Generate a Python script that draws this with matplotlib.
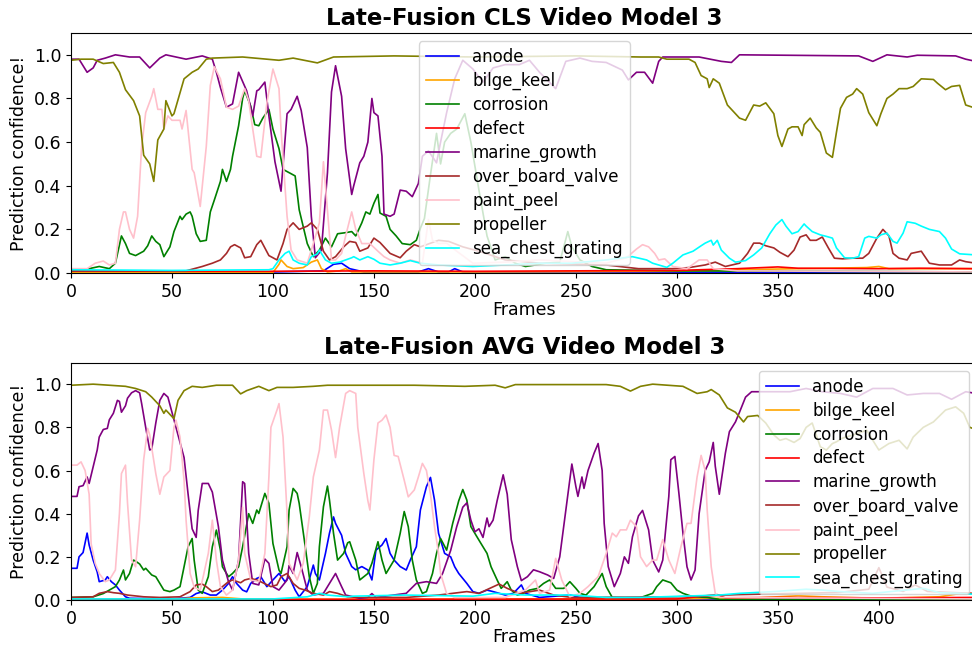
import matplotlib
matplotlib.use("Agg")
import matplotlib.pyplot as plt

# class names and plot colours (same order in both panels)
classes = ["anode", "bilge_keel", "corrosion", "defect", "marine_growth",
           "over_board_valve", "paint_peel", "propeller", "sea_chest_grating"]
colors = ["blue", "orange", "green", "red", "purple",
          "brown", "pink", "olive", "cyan"]

# ---- CLS model: (frame, confidence) ----
cls_anode = [(0, .005), (100, .005), (125, .01), (130, .04), (134, .045), (138, .02), (145, .005),
             (172, .005), (177, .02), (182, .005), (187, .005), (190, .02), (194, .005), (250, .005),
             (300, .003), (448, .003)]
cls_bilge_keel = [(0, .002), (100, .002), (103, .04), (104, .06), (107, .03), (110, .02), (115, .025),
                  (119, .05), (122, .06), (124, .02), (127, .005), (133, .01), (136, .02), (139, .005),
                  (200, .005), (300, .008), (330, .015), (360, .02), (394, .025), (400, .03), (405, .02),
                  (430, .02), (448, .02)]
cls_corrosion = [(0, .01), (9, .02), (14, .03), (19, .02), (22, .045), (25, .17), (27, .135), (29, .09),
                 (32, .08), (36, .10), (38, .125), (40, .17), (42, .145), (44, .13), (46, .075), (49, .12),
                 (51, .19), (54, .26), (55, .245), (57, .27), (59, .28), (60, .26), (62, .18), (64, .145),
                 (67, .15), (69, .28), (71, .335), (74, .42), (75, .475), (77, .42), (79, .475), (80, .535),
                 (83, .675), (85, .80), (86, .835), (89, .765), (91, .68), (93, .675), (95, .71), (98, .75),
                 (100, .66), (103, .57), (105, .475), (108, .46), (111, .445), (113, .29), (117, .135),
                 (120, .075), (123, .105), (126, .16), (129, .12), (132, .18), (136, .185), (139, .19),
                 (141, .17), (144, .23), (146, .28), (148, .27), (150, .32), (152, .36), (153, .275),
                 (156, .26), (158, .2), (161, .17), (164, .135), (168, .13), (171, .15), (173, .205),
                 (175, .25), (178, .45), (181, .64), (183, .5), (185, .6), (188, .64), (191, .66), (195, .73),
                 (198, .6), (202, .38), (206, .17), (210, .06), (215, .075), (220, .045), (225, .03),
                 (230, .037), (235, .045), (242, .05), (246, .19), (248, .12), (252, .06), (258, .03),
                 (265, .015), (300, .01), (448, .005)]
cls_defect = [(0, .01), (50, .008), (100, .008), (150, .01), (200, .008), (250, .01), (300, .012),
              (330, .02), (350, .028), (360, .022), (400, .02), (420, .022), (448, .02)]
cls_marine_growth = [(0, .98), (4, .98), (8, .92), (11, .94), (13, .975), (17, .985), (22, 1.0), (29, .99),
                     (34, .99), (39, .94), (44, .985), (47, 1.0), (57, .98), (65, .995), (70, .98), (72, .92),
                     (74, .85), (77, .76), (80, .775), (83, .92), (87, .835), (90, .72), (92, .835), (93, .84),
                     (96, .875), (98, .72), (101, .51), (104, .375), (107, .73), (109, .75), (112, .81),
                     (114, .745), (117, .575), (119, .26), (121, .07), (124, .105), (127, .46), (129, .83),
                     (131, .95), (134, .81), (136, .57), (139, .36), (140, .40), (143, .505), (145, .535),
                     (147, .6), (149, .80), (150, .735), (152, .72), (154, .535), (155, .27), (158, .26),
                     (160, .27), (163, .38), (166, .375), (169, .35), (172, .41), (174, .535), (177, .56),
                     (181, .505), (183, .6), (186, .735), (190, .89), (194, .975), (199, .935), (204, .875),
                     (209, .94), (215, .955), (222, .955), (227, .975), (232, .92), (240, .845), (245, .97),
                     (252, .985), (258, .97), (265, .965), (273, .93), (276, .885), (280, .92), (284, .92),
                     (288, .87), (291, .97), (293, .99), (311, .99), (322, .97), (327, .965), (331, 1.0),
                     (390, .995), (397, .97), (404, 1.0), (414, .99), (419, .998), (438, .995), (443, .98),
                     (448, .97)]
cls_over_board_valve = [(0, .01), (57, .01), (61, .02), (65, .03), (70, .045), (74, .06), (77, .09), (79, .12),
                        (81, .13), (84, .115), (86, .07), (89, .075), (92, .13), (94, .15), (96, .115), (98, .08),
                        (102, .06), (105, .135), (107, .2), (110, .23), (113, .2), (117, .215), (119, .23),
                        (122, .2), (125, .1), (128, .06), (131, .075), (135, .12), (138, .145), (141, .14),
                        (143, .1), (147, .115), (150, .16), (153, .14), (158, .09), (163, .07), (166, .1),
                        (170, .13), (173, .12), (182, .15), (187, .145), (194, .12), (202, .1), (215, .06),
                        (232, .045), (265, .037), (281, .02), (298, .02), (306, .025), (314, .037), (319, .05),
                        (324, .03), (331, .045), (335, .09), (338, .137), (341, .137), (344, .125), (348, .115),
                        (351, .095), (355, .075), (358, .105), (361, .165), (364, .175), (366, .15), (369, .15),
                        (372, .165), (375, .115), (378, .068), (382, .065), (387, .068), (392, .068), (395, .09),
                        (399, .16), (402, .2), (405, .17), (407, .09), (410, .068), (414, .06), (416, .09),
                        (421, .1), (425, .045), (430, .037), (436, .037), (440, .06), (443, .052), (448, .045)]
cls_paint_peel = [(0, .02), (8, .02), (12, .045), (16, .055), (19, .037), (22, .045), (24, .2), (26, .28),
                  (27, .28), (29, .2), (31, .16), (33, .26), (35, .58), (37, .735), (40, .81), (41, .845),
                  (43, .75), (45, .75), (46, .66), (48, .72), (50, .70), (54, .70), (55, .66), (57, .745),
                  (60, .475), (61, .46), (64, .305), (67, .58), (69, .86), (71, .945), (74, .89), (77, .76),
                  (80, .75), (83, .765), (86, .845), (88, .79), (90, .66), (92, .535), (94, .53), (97, .78),
                  (100, .935), (103, .845), (104, .66), (107, .26), (109, .105), (112, .06), (117, .045),
                  (120, .135), (123, .23), (125, .51), (126, .4), (129, .06), (131, .06), (134, .09),
                  (136, .17), (139, .28), (141, .2), (144, .135), (148, .135), (152, .1), (155, .075),
                  (158, .06), (163, .045), (168, .06), (174, .045), (177, .245), (179, .15), (182, .135),
                  (186, .137), (191, .1), (199, .045), (215, .05), (232, .06), (265, .045), (275, .07),
                  (280, .11), (283, .13), (286, .12), (289, .09), (291, .06), (294, .065), (298, .03),
                  (305, .02), (311, .06), (315, .06), (318, .02), (330, .01), (448, .005)]
cls_propeller = [(0, .975), (5, .98), (11, .98), (16, .96), (21, .965), (24, .92), (27, .84), (31, .79),
                 (34, .72), (36, .54), (39, .5), (41, .42), (43, .61), (46, .66), (47, .79), (50, .72),
                 (51, .73), (56, .89), (60, .92), (63, .935), (67, .98), (70, .985), (85, .99), (103, .975),
                 (110, .985), (122, .963), (130, .99), (160, .995), (200, .99), (250, .995), (282, .99),
                 (291, .99), (295, .98), (306, .98), (309, .965), (312, .905), (315, .89), (316, .85),
                 (318, .89), (321, .87), (325, .77), (331, .71), (334, .70), (338, .77), (341, .765),
                 (344, .78), (348, .73), (350, .63), (352, .58), (355, .66), (357, .67), (360, .67),
                 (362, .63), (363, .68), (366, .71), (369, .665), (371, .645), (374, .55), (377, .53),
                 (379, .645), (381, .755), (384, .805), (387, .82), (389, .845), (392, .82), (395, .735),
                 (399, .675), (401, .73), (404, .8), (407, .82), (410, .845), (414, .845), (417, .855),
                 (421, .89), (427, .887), (429, .87), (433, .84), (436, .855), (440, .86), (443, .77),
                 (448, .755)]
cls_sea_chest_grating = [(0, .015), (50, .012), (98, .015), (100, .02), (103, .06), (106, .09), (108, .1),
                         (110, .06), (113, .045), (117, .037), (119, .075), (122, .088), (123, .105), (126, .06),
                         (129, .045), (133, .05), (136, .06), (139, .07), (140, .075), (143, .06), (147, .075),
                         (150, .063), (153, .045), (158, .037), (163, .045), (168, .057), (173, .045), (182, .037),
                         (199, .03), (215, .037), (232, .045), (248, .045), (265, .06), (278, .075), (285, .06),
                         (288, .045), (295, .026), (298, .045), (303, .083), (308, .1), (312, .125), (314, .137),
                         (317, .15), (318, .128), (320, .15), (322, .105), (326, .068), (329, .05), (334, .057),
                         (338, .083), (342, .115), (346, .18), (349, .22), (352, .245), (354, .215), (357, .18),
                         (360, .19), (363, .225), (364, .215), (367, .19), (371, .175), (374, .168), (377, .16),
                         (379, .115), (383, .07), (387, .068), (390, .075), (393, .16), (395, .168), (399, .16),
                         (401, .175), (404, .183), (407, .145), (409, .137), (412, .183), (414, .235), (418, .228),
                         (421, .215), (425, .2), (430, .19), (433, .16), (436, .11), (440, .088), (448, .083)]

# ---- AVG model: (frame, confidence) ----
avg_anode = [(0, .147), (3, .147), (4, .2), (6, .22), (8, .31), (9, .255), (11, .185), (13, .13), (14, .085),
             (17, .093), (18, .108), (20, .085), (22, .07), (24, .046), (27, .015), (29, .008), (50, .005),
             (59, .012), (62, .03), (65, .038), (69, .023), (72, .023), (75, .046), (78, .077), (80, .108),
             (82, .077), (85, .046), (87, .038), (89, .077), (92, .1), (94, .108), (97, .062), (100, .093),
             (103, .123), (106, .085), (108, .108), (111, .046), (113, .015), (117, .062), (120, .162),
             (121, .123), (123, .093), (126, .216), (128, .31), (130, .385), (131, .355), (134, .3),
             (136, .216), (139, .155), (141, .14), (144, .155), (147, .139), (149, .093), (151, .231),
             (154, .255), (156, .285), (158, .216), (160, .185), (163, .155), (166, .139), (168, .185),
             (171, .247), (173, .417), (176, .525), (178, .568), (180, .463), (182, .309), (184, .247),
             (185, .216), (188, .2), (190, .154), (192, .123), (196, .077), (199, .039), (202, .031),
             (206, .046), (209, .039), (212, .031), (215, .023), (219, .031), (223, .07), (225, .031),
             (232, .012), (247, .023), (252, .012), (300, .003), (448, .003)]
avg_bilge_keel = [(0, .003), (50, .003), (60, .01), (75, .012), (85, .005), (150, .003), (250, .005),
                  (300, .005), (340, .01), (360, .02), (372, .015), (400, .008), (430, .015), (440, .03),
                  (448, .03)]
avg_corrosion = [(0, .012), (11, .015), (16, .03), (19, .046), (22, .062), (24, .093), (26, .139), (27, .093),
                 (29, .123), (31, .185), (32, .18), (34, .167), (36, .139), (37, .147), (40, .116), (42, .108),
                 (44, .077), (46, .046), (49, .039), (51, .046), (54, .062), (56, .154), (58, .247), (60, .285),
                 (61, .185), (63, .046), (65, .031), (68, .108), (70, .247), (72, .324), (74, .231), (75, .154),
                 (78, .108), (80, .123), (83, .154), (85, .247), (88, .4), (90, .355), (92, .417), (93, .401),
                 (96, .494), (98, .448), (100, .262), (103, .139), (104, .123), (107, .247), (108, .417),
                 (110, .517), (112, .494), (113, .448), (116, .247), (118, .108), (120, .031), (122, .077),
                 (123, .247), (125, .432), (127, .528), (128, .463), (130, .309), (132, .185), (135, .216),
                 (137, .265), (138, .27), (141, .185), (143, .093), (147, .123), (149, .17), (152, .27),
                 (154, .185), (156, .123), (160, .185), (163, .309), (165, .41), (167, .34), (169, .185),
                 (171, .093), (174, .031), (176, .039), (179, .123), (181, .216), (183, .285), (186, .231),
                 (189, .355), (192, .46), (194, .512), (196, .463), (198, .34), (201, .293), (203, .262),
                 (206, .216), (208, .154), (211, .093), (213, .054), (216, .085), (218, .046), (221, .023),
                 (224, .031), (227, .046), (231, .054), (234, .077), (237, .093), (240, .054), (244, .054),
                 (247, .085), (250, .054), (252, .031), (255, .023), (259, .062), (263, .123), (265, .062),
                 (268, .012), (281, .008), (288, .031), (290, .062), (293, .093), (297, .08), (300, .046),
                 (303, .031), (308, .015), (315, .012), (321, .003), (448, .003)]
avg_defect = [(0, .003), (100, .003), (200, .004), (300, .005), (320, .025), (324, .01), (350, .012),
              (400, .01), (448, .012)]
avg_marine_growth = [(0, .48), (3, .48), (4, .525), (6, .53), (8, .57), (9, .54), (11, .617), (13, .695),
                     (14, .755), (16, .79), (18, .795), (19, .835), (21, .865), (23, .925), (24, .92), (25, .87),
                     (27, .9), (28, .935), (30, .96), (32, .97), (34, .96), (35, .91), (37, .8), (39, .695),
                     (40, .7), (42, .82), (44, .925), (46, .957), (48, .94), (51, .835), (53, .765), (56, .66),
                     (58, .49), (60, .33), (62, .29), (63, .415), (65, .54), (68, .54), (70, .5), (73, .34),
                     (75, .185), (78, .085), (80, .046), (83, .185), (85, .548), (86, .54), (88, .216), (90, .077),
                     (93, .07), (96, .19), (98, .17), (100, .062), (103, .046), (107, .093), (108, .16), (110, .123),
                     (112, .22), (114, .154), (117, .046), (120, .023), (125, .031), (128, .077), (131, .123),
                     (134, .062), (136, .023), (143, .008), (147, .012), (149, .03), (151, .012), (166, .031),
                     (171, .077), (176, .085), (181, .077), (184, .123), (188, .23), (191, .34), (194, .43),
                     (196, .45), (198, .37), (200, .316), (202, .33), (204, .29), (206, .38), (207, .34),
                     (209, .37), (211, .46), (214, .58), (216, .49), (218, .28), (221, .155), (223, .09),
                     (226, .108), (229, .14), (232, .131), (236, .116), (239, .1), (242, .2), (245, .415),
                     (248, .63), (250, .525), (251, .48), (253, .57), (254, .517), (256, .6), (259, .68),
                     (261, .725), (263, .6), (264, .355), (266, .155), (269, .062), (272, .123), (274, .2),
                     (276, .17), (278, .293), (281, .39), (283, .415), (286, .325), (288, .185), (291, .13),
                     (293, .185), (296, .48), (297, .65), (299, .665), (301, .494), (303, .31), (305, .154),
                     (307, .093), (309, .139), (311, .4), (314, .6), (316, .64), (318, .73), (319, .62),
                     (321, .49), (324, .68), (326, .78), (329, .825), (331, .87), (334, .94), (337, .965),
                     (341, .965), (348, .965), (356, .965), (364, .98), (372, .965), (381, .957), (389, .94),
                     (397, .98), (407, .98), (414, .95), (422, .957), (430, .957), (436, .93), (443, .965),
                     (448, .957)]
avg_over_board_valve = [(0, .012), (11, .015), (14, .031), (18, .039), (21, .034), (24, .031), (28, .023),
                        (36, .015), (44, .012), (54, .015), (59, .039), (62, .07), (65, .074), (67, .062),
                        (70, .039), (73, .046), (75, .062), (78, .085), (80, .093), (84, .08), (86, .093),
                        (89, .1), (92, .093), (95, .08), (99, .062), (102, .07), (104, .108), (107, .123),
                        (110, .077), (113, .054), (116, .046), (120, .031), (125, .023), (128, .039), (132, .031),
                        (137, .015), (143, .012), (166, .012), (182, .023), (196, .039), (202, .031), (212, .074),
                        (216, .054), (222, .031), (232, .046), (239, .023), (248, .012), (300, .015), (330, .025),
                        (380, .035), (395, .05), (400, .15), (404, .06), (412, .04), (418, .07), (424, .04),
                        (448, .03)]
avg_paint_peel = [(0, .625), (3, .625), (5, .64), (7, .6), (9, .49), (10, .26), (12, .17), (14, .123), (17, .085),
                  (19, .093), (22, .139), (24, .4), (25, .586), (27, .625), (28, .45), (30, .185), (32, .154),
                  (34, .37), (36, .65), (38, .795), (39, .765), (42, .586), (44, .49), (46, .57), (49, .6),
                  (51, .8), (52, .833), (54, .755), (56, .555), (57, .37), (59, .123), (61, .06), (64, .046),
                  (68, .216), (70, .37), (72, .185), (74, .062), (77, .023), (80, .046), (83, .185), (85, .43),
                  (86, .216), (89, .093), (93, .085), (96, .216), (98, .57), (99, .8), (102, .88), (103, .91),
                  (105, .755), (107, .4), (108, .17), (112, .093), (115, .17), (118, .385), (120, .57),
                  (123, .695), (125, .88), (127, .88), (129, .787), (131, .66), (133, .8), (136, .957),
                  (138, .97), (141, .957), (142, .8), (145, .586), (147, .46), (148, .417), (150, .65),
                  (152, .82), (154, .833), (156, .857), (158, .8), (160, .67), (162, .665), (165, .555),
                  (167, .478), (170, .51), (172, .57), (174, .633), (176, .6), (178, .49), (180, .34),
                  (182, .216), (183, .123), (186, .03), (190, .012), (215, .012), (225, .046), (230, .093),
                  (232, .031), (237, .046), (240, .193), (243, .093), (247, .015), (252, .031), (256, .062),
                  (261, .108), (265, .216), (268, .31), (270, .293), (272, .325), (275, .325), (277, .37),
                  (280, .34), (282, .2), (285, .155), (288, .185), (290, .185), (293, .28), (296, .185),
                  (299, .123), (302, .247), (305, .355), (307, .355), (310, .57), (312, .67), (314, .6),
                  (315, .417), (317, .154), (319, .03), (321, .012), (448, .005)]
avg_propeller = [(0, .995), (11, 1.0), (19, .995), (27, .99), (32, .98), (37, .965), (40, .94), (44, .9),
                 (46, .865), (47, .88), (51, .84), (53, .925), (56, .97), (60, .99), (65, .985), (72, .995),
                 (80, .995), (84, .955), (87, .97), (93, .99), (98, .97), (102, .985), (110, .985), (120, .99),
                 (127, .995), (143, .995), (170, .995), (195, .99), (210, .995), (215, .983), (220, .998),
                 (265, .998), (272, .99), (277, .968), (282, .99), (288, 1.0), (303, .99), (310, .957),
                 (315, .965), (317, .975), (321, .95), (325, .89), (329, .87), (333, .825), (335, .85),
                 (340, .855), (344, .82), (348, .765), (351, .74), (354, .748), (358, .73), (361, .748),
                 (364, .8), (367, .82), (371, .71), (374, .695), (377, .725), (379, .733), (382, .75),
                 (389, .77), (394, .787), (397, .74), (400, .695), (405, .725), (410, .74), (414, .7),
                 (417, .755), (422, .8), (427, .825), (433, .88), (438, .895), (442, .865), (445, .8),
                 (448, .79)]
avg_sea_chest_grating = [(0, .005), (100, .005), (117, .015), (120, .023), (123, .031), (127, .023),
                         (137, .015), (140, .018), (166, .023), (199, .018), (210, .031), (225, .023),
                         (248, .023), (265, .012), (282, .012), (321, .023), (331, .031), (348, .039),
                         (364, .05), (372, .046), (381, .039), (397, .031), (422, .054), (430, .034),
                         (440, .031), (448, .026)]

cls_series = [cls_anode, cls_bilge_keel, cls_corrosion, cls_defect, cls_marine_growth,
              cls_over_board_valve, cls_paint_peel, cls_propeller, cls_sea_chest_grating]
avg_series = [avg_anode, avg_bilge_keel, avg_corrosion, avg_defect, avg_marine_growth,
              avg_over_board_valve, avg_paint_peel, avg_propeller, avg_sea_chest_grating]

fig = plt.figure(figsize=(9.72, 6.47), dpi=100)
ax_top = fig.add_axes([0.073, 0.578, 0.933, 0.371])
ax_bot = fig.add_axes([0.073, 0.0726, 0.933, 0.367])


def draw_panel(ax, series, title, legend_loc):
    for pts, name, col in zip(series, classes, colors):
        x, y = zip(*pts)
        ax.plot(x, y, color=col, lw=1.2, label=name)
    ax.set_xlim(0, 449)
    ax.set_ylim(0, 1.1)
    ax.set_yticks([0, 0.2, 0.4, 0.6, 0.8, 1.0])
    ax.set_title(title, fontsize=16.5, fontweight="bold")
    ax.set_xlabel("Frames", fontsize=12.5, labelpad=0)
    ax.set_ylabel("Prediction confidence!", fontsize=12.5)
    ax.tick_params(labelsize=12.5)
    ax.legend(loc=legend_loc, fontsize=12, handlelength=2.0, labelspacing=0.35)


draw_panel(ax_top, cls_series, "Late-Fusion CLS Video Model 3", "upper center")
draw_panel(ax_bot, avg_series, "Late-Fusion AVG Video Model 3", "upper right")

fig.savefig("out.png", dpi=100)
